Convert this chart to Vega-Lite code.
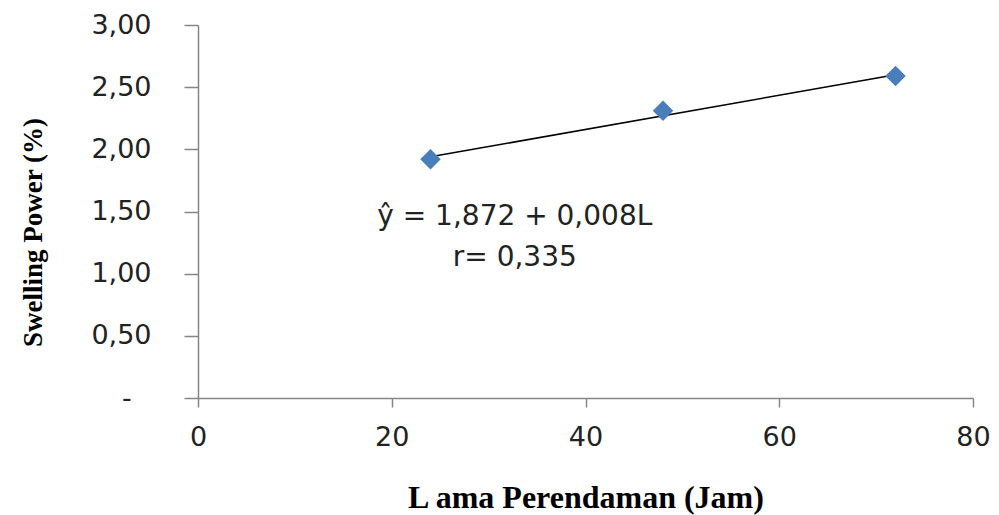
{
  "$schema": "https://vega.github.io/schema/vega-lite/v6.json",
  "autosize": "none",
  "width": 775,
  "height": 373,
  "padding": {"left": 198, "top": 25, "right": 26, "bottom": 117},
  "background": "white",
  "config": {"view": {"stroke": null}},
  "datasets": {
    "points": [
      {"jam": 24, "swelling": 1.92},
      {"jam": 48, "swelling": 2.31},
      {"jam": 72, "swelling": 2.59}
    ],
    "trend": [
      {"jam": 24, "swelling": 1.94},
      {"jam": 72, "swelling": 2.6}
    ],
    "notes": [
      {"jam": 32.7, "swelling": 1.39, "label": "ŷ = 1,872 + 0,008L"},
      {"jam": 32.7, "swelling": 1.062, "label": "r= 0,335"}
    ]
  },
  "layer": [
    {
      "data": {"name": "trend"},
      "mark": {"type": "line", "color": "black", "strokeWidth": 1.5},
      "encoding": {
        "x": {
          "field": "jam", "type": "quantitative",
          "scale": {"domain": [0, 80], "nice": false, "zero": false},
          "axis": {
            "values": [0, 20, 40, 60, 80],
            "grid": false,
            "domainColor": "#868686",
            "domainWidth": 1.5,
            "tickColor": "#868686",
            "tickWidth": 1.5,
            "tickSize": 9,
            "labelFont": "DejaVu Sans",
            "labelFontSize": 27,
            "labelColor": "#222222",
            "labelPadding": 17,
            "labelFlush": false,
            "title": "L ama Perendaman  (Jam)",
            "titleFont": "Liberation Serif",
            "titleFontSize": 32,
            "titleFontWeight": "bold",
            "titleColor": "#000000",
            "titleBaseline": "alphabetic",
            "titleY": 109
          }
        },
        "y": {
          "field": "swelling", "type": "quantitative",
          "scale": {"domain": [0, 3], "nice": false, "zero": false},
          "axis": {
            "values": [0, 0.5, 1, 1.5, 2, 2.5, 3],
            "labelExpr": "datum.value == 0 ? '-\u2800' : replace(format(datum.value, '.2f'), '.', ',')",
            "grid": false,
            "domainColor": "#868686",
            "domainWidth": 1.5,
            "tickColor": "#868686",
            "tickWidth": 1.5,
            "tickSize": 14,
            "labelFont": "DejaVu Sans",
            "labelFontSize": 27,
            "labelColor": "#222222",
            "labelPadding": 33,
            "labelFlush": false,
            "title": "Swelling Power (%)",
            "titleFont": "Liberation Serif",
            "titleFontSize": 27,
            "titleFontWeight": "bold",
            "titleColor": "#000000",
            "titleAngle": -90,
            "titleBaseline": "alphabetic",
            "titleAlign": "center",
            "titleX": -157,
            "titleY": 207
          }
        }
      }
    },
    {
      "data": {"name": "points"},
      "mark": {"type": "point", "shape": "diamond", "filled": true, "size": 420, "color": "#4A7EBB", "opacity": 1},
      "encoding": {
        "x": {"field": "jam", "type": "quantitative"},
        "y": {"field": "swelling", "type": "quantitative"}
      }
    },
    {
      "data": {"name": "notes"},
      "mark": {"type": "text", "font": "DejaVu Sans", "fontSize": 28, "color": "#222222", "align": "center", "baseline": "alphabetic"},
      "encoding": {
        "x": {"field": "jam", "type": "quantitative"},
        "y": {"field": "swelling", "type": "quantitative"},
        "text": {"field": "label"}
      }
    }
  ]
}
